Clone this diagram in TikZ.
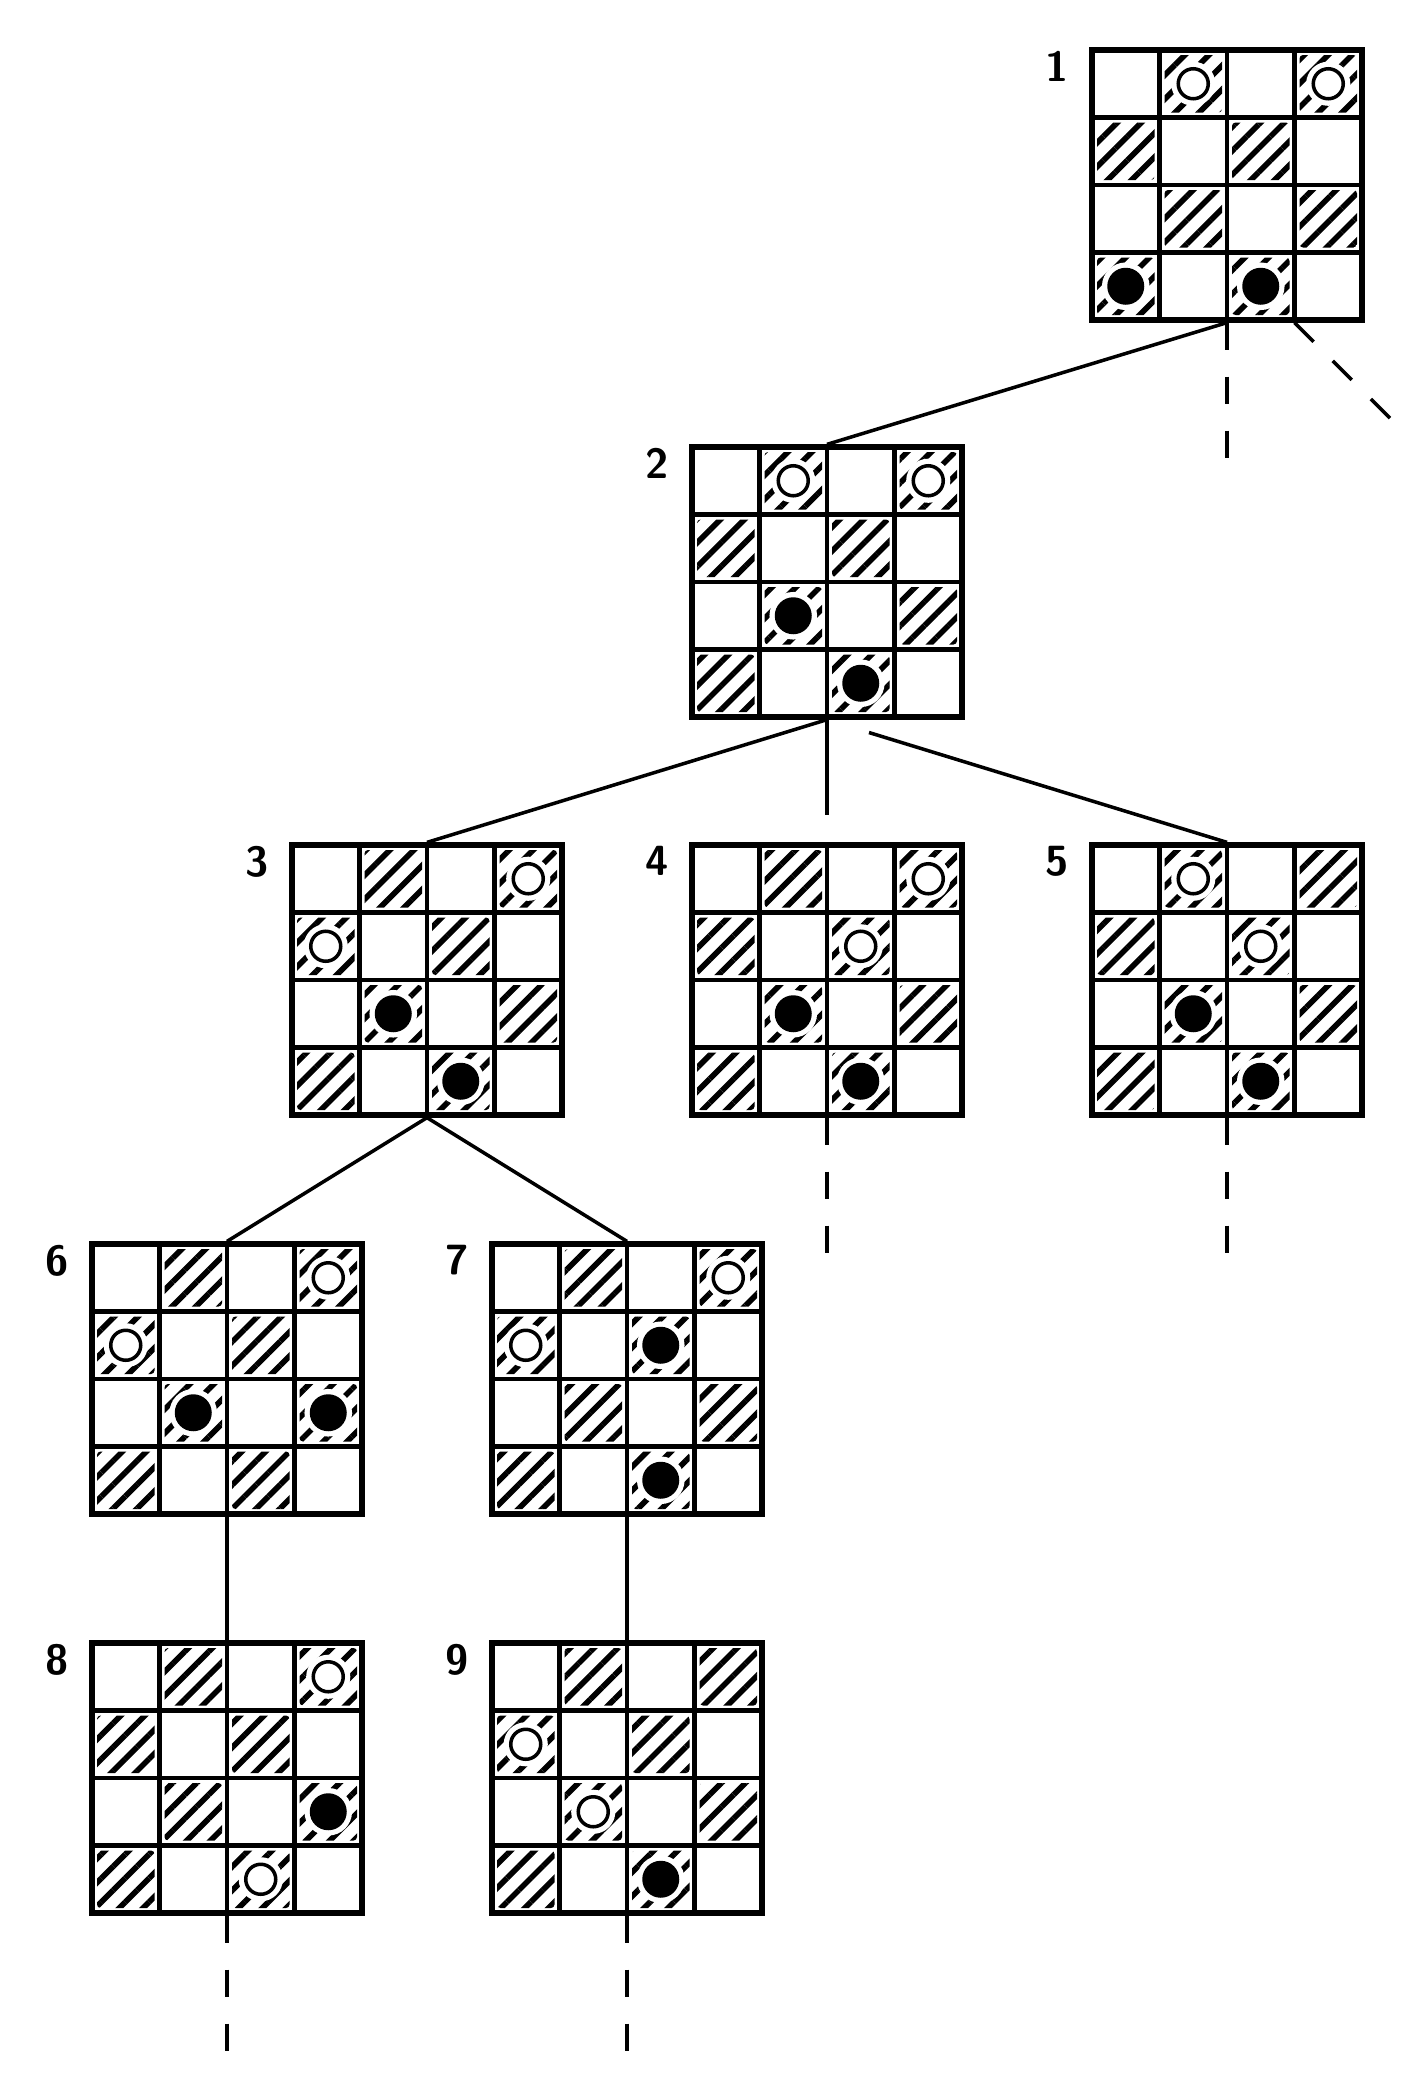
\documentclass[tikz,border=0pt]{standalone}
\usepackage{tikz}
\usetikzlibrary{calc, patterns.meta}

\tikzset{
  board/.style={draw, line width=1.5pt, minimum size=2.7cm, inner sep=0pt},
  num/.style={font=\fontsize{12}{12}\selectfont\sffamily\bfseries, inner sep=0pt, anchor=north east},
  wpc/.style={circle, draw, line width=1pt, fill=white, minimum size=0.3cm, inner sep=0pt,
    preaction={draw=white, line width=4pt}},
  bpc/.style={circle, fill=black, minimum size=0.37cm, inner sep=0pt,
    preaction={draw=white, line width=3pt}},
  link/.style={line width=1pt},
  dlink/.style={line width=1pt, dash pattern=on 0.27cm off 0.27cm},
  cells/.pic={
    \fill[pattern={Lines[angle=45, distance=4.8pt, line width=1.6pt]}, rounded corners=1pt]
      (-0.625,1.30) rectangle (-0.05,0.725)  (0.725,1.30) rectangle (1.30,0.725)
      (-1.30,0.625) rectangle (-0.725,0.05)  (0.05,0.625) rectangle (0.625,0.05)
      (-0.625,-0.05) rectangle (-0.05,-0.625) (0.725,-0.05) rectangle (1.30,-0.625)
      (-1.30,-0.725) rectangle (-0.725,-1.30) (0.05,-0.725) rectangle (0.625,-1.30);
    \draw[line width=1.2pt] (-0.675,-1.35) -- (-0.675,1.35) (0,-1.35) -- (0,1.35) (0.675,-1.35) -- (0.675,1.35)
      (-1.35,-0.675) -- (1.35,-0.675) (-1.35,0) -- (1.35,0) (-1.35,0.675) -- (1.35,0.675);
  }
}

\begin{document}
\begin{tikzpicture}
  \useasboundingbox (0,0) rectangle (14.24,-20.75);
  \node[board] (b1) at (12.27,-1.85) {};
  \pic at (b1) {cells};
  \node[num] (n1) at ($(b1.north west)+(-0.2,-0.03)$) {1};
  \node[wpc] (w1a) at ($(b1)+(-0.3375,1.0125)$) {};
  \node[wpc] (w1b) at ($(b1)+(1.0125,1.0125)$) {};
  \node[bpc] (k1a) at ($(b1)+(-1.0125,-1.0125)$) {};
  \node[bpc] (k1b) at ($(b1)+(0.3375,-1.0125)$) {};
%---------------------------------------------------------------
  \node[board] (b2) at (8.27,-5.82) {};
  \pic at (b2) {cells};
  \node[num] (n2) at ($(b2.north west)+(-0.2,-0.03)$) {2};
  \node[wpc] (w2a) at ($(b2)+(-0.3375,1.0125)$) {};
  \node[wpc] (w2b) at ($(b2)+(1.0125,1.0125)$) {};
  \node[bpc] (k2a) at ($(b2)+(-0.3375,-0.3375)$) {};
  \node[bpc] (k2b) at ($(b2)+(0.3375,-1.0125)$) {};
%---------------------------------------------------------------
  \node[board] (b3) at (4.27,-9.80) {};
  \pic at (b3) {cells};
  \node[num] (n3) at ($(b3.north west)+(-0.2,-0.03)$) {3};
  \node[wpc] (w3a) at ($(b3)+(1.0125,1.0125)$) {};
  \node[wpc] (w3b) at ($(b3)+(-1.0125,0.3375)$) {};
  \node[bpc] (k3a) at ($(b3)+(-0.3375,-0.3375)$) {};
  \node[bpc] (k3b) at ($(b3)+(0.3375,-1.0125)$) {};
  \node[board] (b4) at (8.27,-9.80) {};
  \pic at (b4) {cells};
  \node[num] (n4) at ($(b4.north west)+(-0.2,-0.03)$) {4};
  \node[wpc] (w4a) at ($(b4)+(1.0125,1.0125)$) {};
  \node[wpc] (w4b) at ($(b4)+(0.3375,0.3375)$) {};
  \node[bpc] (k4a) at ($(b4)+(-0.3375,-0.3375)$) {};
  \node[bpc] (k4b) at ($(b4)+(0.3375,-1.0125)$) {};
  \node[board] (b5) at (12.27,-9.80) {};
  \pic at (b5) {cells};
  \node[num] (n5) at ($(b5.north west)+(-0.2,-0.03)$) {5};
  \node[wpc] (w5a) at ($(b5)+(-0.3375,1.0125)$) {};
  \node[wpc] (w5b) at ($(b5)+(0.3375,0.3375)$) {};
  \node[bpc] (k5a) at ($(b5)+(-0.3375,-0.3375)$) {};
  \node[bpc] (k5b) at ($(b5)+(0.3375,-1.0125)$) {};
%---------------------------------------------------------------
  \node[board] (b6) at (2.27,-13.79) {};
  \pic at (b6) {cells};
  \node[num] (n6) at ($(b6.north west)+(-0.2,-0.03)$) {6};
  \node[wpc] (w6a) at ($(b6)+(1.0125,1.0125)$) {};
  \node[wpc] (w6b) at ($(b6)+(-1.0125,0.3375)$) {};
  \node[bpc] (k6a) at ($(b6)+(-0.3375,-0.3375)$) {};
  \node[bpc] (k6b) at ($(b6)+(1.0125,-0.3375)$) {};
  \node[board] (b7) at (6.27,-13.79) {};
  \pic at (b7) {cells};
  \node[num] (n7) at ($(b7.north west)+(-0.2,-0.03)$) {7};
  \node[wpc] (w7a) at ($(b7)+(1.0125,1.0125)$) {};
  \node[wpc] (w7b) at ($(b7)+(-1.0125,0.3375)$) {};
  \node[bpc] (k7a) at ($(b7)+(0.3375,0.3375)$) {};
  \node[bpc] (k7b) at ($(b7)+(0.3375,-1.0125)$) {};
%---------------------------------------------------------------
  \node[board] (b8) at (2.27,-17.78) {};
  \pic at (b8) {cells};
  \node[num] (n8) at ($(b8.north west)+(-0.2,-0.03)$) {8};
  \node[wpc] (w8a) at ($(b8)+(1.0125,1.0125)$) {};
  \node[wpc] (w8b) at ($(b8)+(0.3375,-1.0125)$) {};
  \node[bpc] (k8a) at ($(b8)+(1.0125,-0.3375)$) {};
  \node[board] (b9) at (6.27,-17.78) {};
  \pic at (b9) {cells};
  \node[num] (n9) at ($(b9.north west)+(-0.2,-0.03)$) {9};
  \node[wpc] (w9a) at ($(b9)+(-1.0125,0.3375)$) {};
  \node[wpc] (w9b) at ($(b9)+(-0.3375,-0.3375)$) {};
  \node[bpc] (k9a) at ($(b9)+(0.3375,-1.0125)$) {};
%---------------------------------------------------------------
  \coordinate (e1) at ($(b1.south)+(0,-1.35)$);
  \coordinate (s1) at ($(b1.south)+(0.675,0)$);
  \coordinate (f1) at ($(s1)+(0.955,-0.955)$);
  \draw[link] (b1.south) -- (b2.north);
  \draw[dlink] (b1.south) -- (e1);
  \draw[dlink] (s1) -- (f1);
  \coordinate (e2) at ($(b2.south)+(0,-0.95)$);
  \draw[link] (b2.south) -- (b3.north);
  \draw[link] (b2.south) -- (e2);
  \draw[link] ($(b2.south)!0.105!(b5.north)$) -- (b5.north);
  \draw[link] (b3.south) -- (b6.north);
  \draw[link] (b3.south) -- (b7.north);
  \coordinate (e4) at ($(b4.south)+(0,-1.35)$);
  \coordinate (e5) at ($(b5.south)+(0,-1.35)$);
  \draw[dlink] (b4.south) -- (e4);
  \draw[dlink] (b5.south) -- (e5);
  \draw[link] (b6.south) -- (b8.north);
  \draw[link] (b7.south) -- (b9.north);
  \coordinate (e8) at ($(b8.south)+(0,-1.35)$);
  \coordinate (e9) at ($(b9.south)+(0,-1.35)$);
  \draw[dlink] (b8.south) -- (e8);
  \draw[dlink] (b9.south) -- (e9);
\end{tikzpicture}
\end{document}
